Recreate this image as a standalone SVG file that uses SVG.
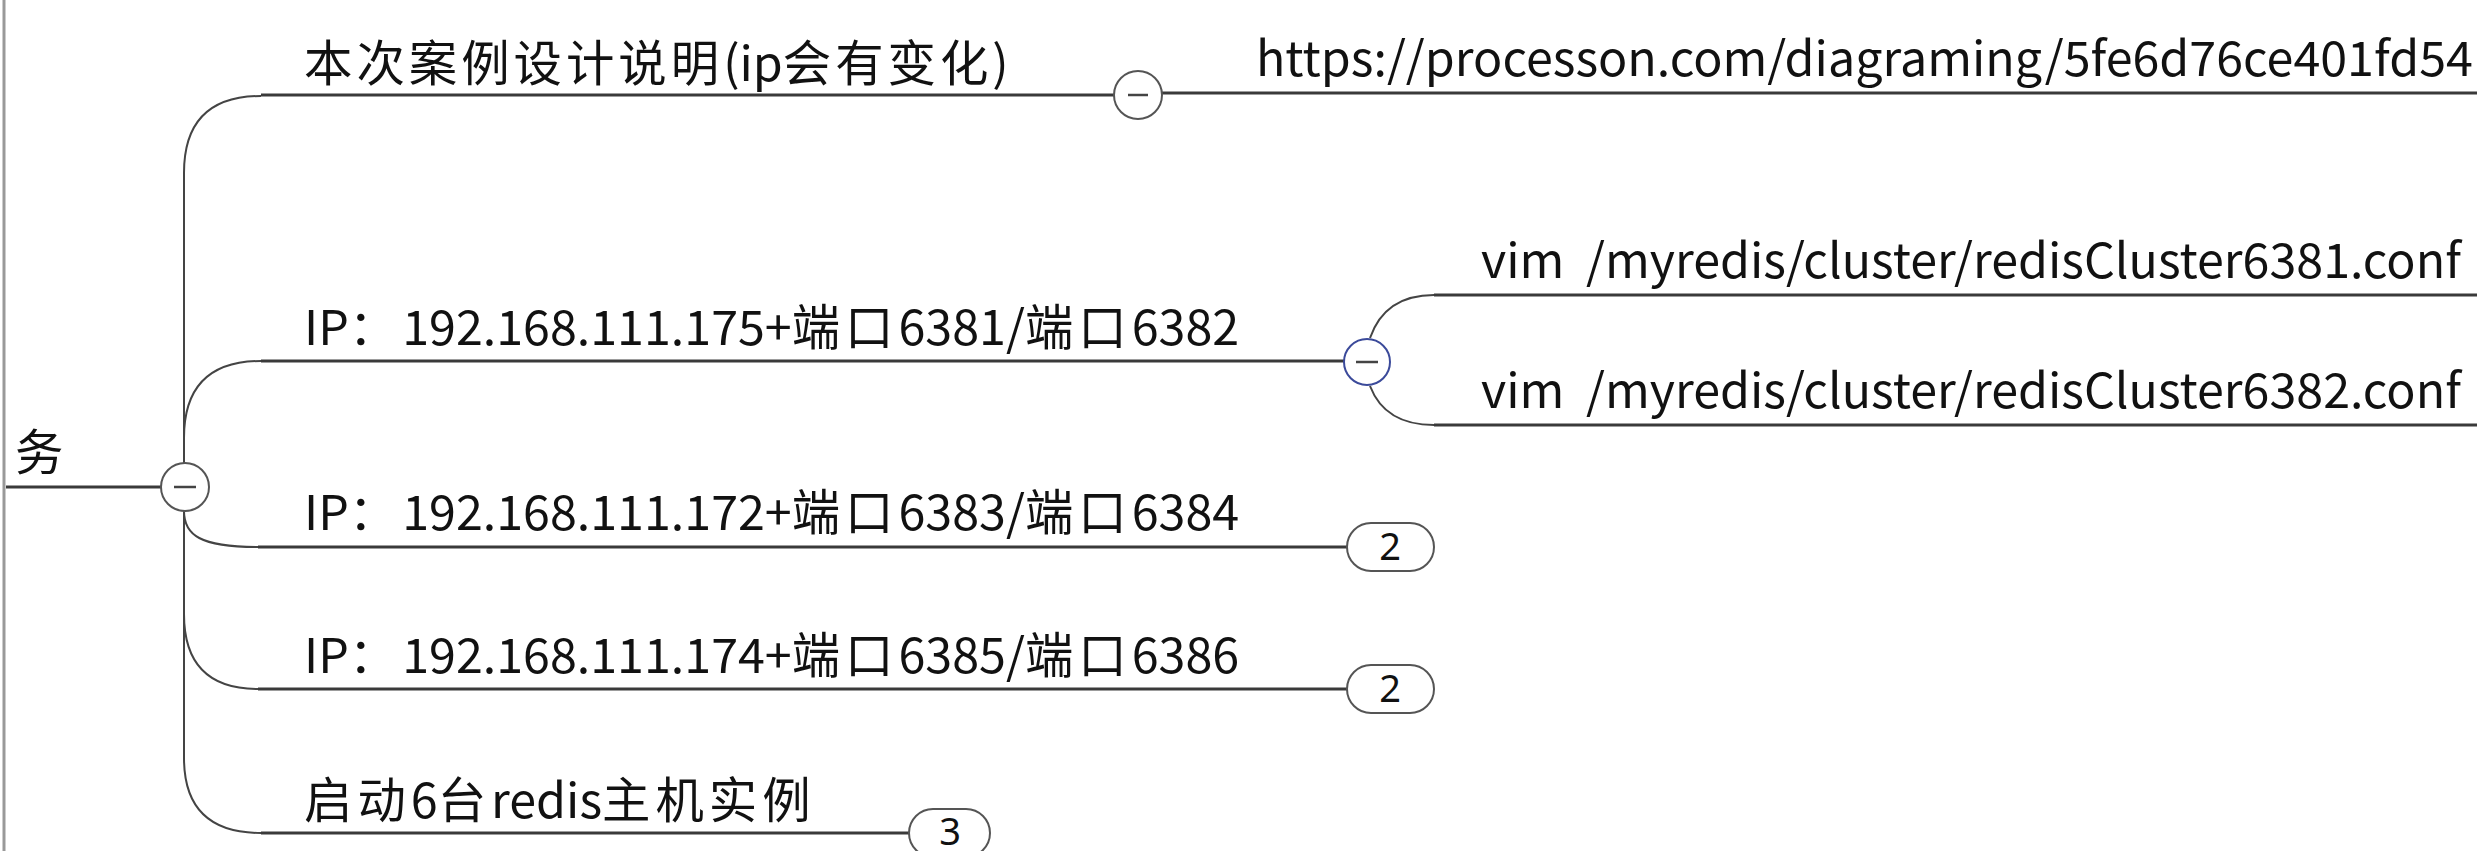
<svg xmlns="http://www.w3.org/2000/svg" width="2477" height="851" viewBox="0 0 2477 851">
<style>
.t{font-family:"Noto Sans CJK SC","Noto Sans",sans-serif;font-size:48.4px;fill:#111}
.c{letter-spacing:5px}
.c4{letter-spacing:4px}
.ln{fill:none;stroke:#3a3a3a;stroke-width:3}
.cv{fill:none;stroke:#444;stroke-width:2}
.tg{fill:#fff;stroke:#555;stroke-width:2}
.mn{stroke:#444;stroke-width:2.5}
.bt{font-family:"Noto Sans","Liberation Sans",sans-serif;font-size:38px;fill:#111;text-anchor:middle}
</style>
<rect width="2477" height="851" fill="#fff"/>
<line x1="4" y1="0" x2="4" y2="851" stroke="#999" stroke-width="3"/>
<g id="connectors">
<path class="ln" d="M6,487 L161,487"/>
<path class="cv" d="M184,463 L184,173 Q184,96 261,96"/>
<path class="ln" d="M261,95 L1114,95"/>
<path class="ln" d="M1162,93 L2477,93"/>
<path class="cv" d="M184,463 L184,438 Q184,361 261,361"/>
<path class="ln" d="M261,361 L1344,361"/>
<path class="cv" d="M1370,338 Q1385,295 1434,295"/>
<path class="ln" d="M1434,295 L2477,295"/>
<path class="cv" d="M1370,386 Q1385,425 1434,425"/>
<path class="ln" d="M1434,425 L2477,425"/>
<path class="cv" d="M184,511 C184,535 200,547 258,547"/>
<path class="ln" d="M258,547 L1347,547"/>
<path class="cv" d="M184,511 L184,614 Q184,689 258,689"/>
<path class="ln" d="M258,689 L1347,689"/>
<path class="cv" d="M184,511 L184,758 Q184,833 261,833"/>
<path class="ln" d="M261,833 L909,833"/>
</g>
<g id="root">
<text class="t" x="15" y="470">务</text>
<circle class="tg" cx="185" cy="487" r="24"/>
<line class="mn" x1="174" y1="487" x2="196" y2="487"/>
</g>
<g id="n1">
<text class="t" x="304" y="81"><tspan class="c4">本次案例设计说明</tspan>(ip<tspan class="c4">会有变化</tspan>)</text>
<circle class="tg" cx="1138" cy="95" r="24"/>
<line class="mn" x1="1128" y1="95" x2="1148" y2="95"/>
</g>
<g id="n1a">
<text class="t" x="1256" y="76">https://processon.com/diagraming/5fe6d76ce401fd54</text>
</g>
<g id="n2">
<text class="t" x="304" y="345">IP<tspan class="c">：</tspan>192.168.111.175+<tspan class="c">端口</tspan>6381/<tspan class="c">端口</tspan>6382</text>
<circle cx="1367" cy="362" r="23" fill="#fff" stroke="#3b4a9a" stroke-width="2"/>
<line class="mn" x1="1356" y1="362" x2="1378" y2="362"/>
</g>
<g id="n2a">
<text class="t" x="1481" y="278" xml:space="preserve">vim  /myredis/cluster/redisCluster6381.conf</text>
</g>
<g id="n2b">
<text class="t" x="1481" y="408" xml:space="preserve">vim  /myredis/cluster/redisCluster6382.conf</text>
</g>
<g id="n3">
<text class="t" x="304" y="530">IP<tspan class="c">：</tspan>192.168.111.172+<tspan class="c">端口</tspan>6383/<tspan class="c">端口</tspan>6384</text>
<rect class="tg" x="1347" y="523" width="87" height="48" rx="24"/>
<text class="bt" x="1390" y="560">2</text>
</g>
<g id="n4">
<text class="t" x="304" y="673">IP<tspan class="c">：</tspan>192.168.111.174+<tspan class="c">端口</tspan>6385/<tspan class="c">端口</tspan>6386</text>
<rect class="tg" x="1347" y="665" width="87" height="48" rx="24"/>
<text class="bt" x="1390" y="702">2</text>
</g>
<g id="n5">
<text class="t" x="304" y="818"><tspan class="c">启动</tspan>6<tspan class="c">台</tspan>redis<tspan class="c">主机实例</tspan></text>
<rect class="tg" x="909" y="809" width="81" height="48" rx="24"/>
<text class="bt" x="950" y="845">3</text>
</g>
</svg>
